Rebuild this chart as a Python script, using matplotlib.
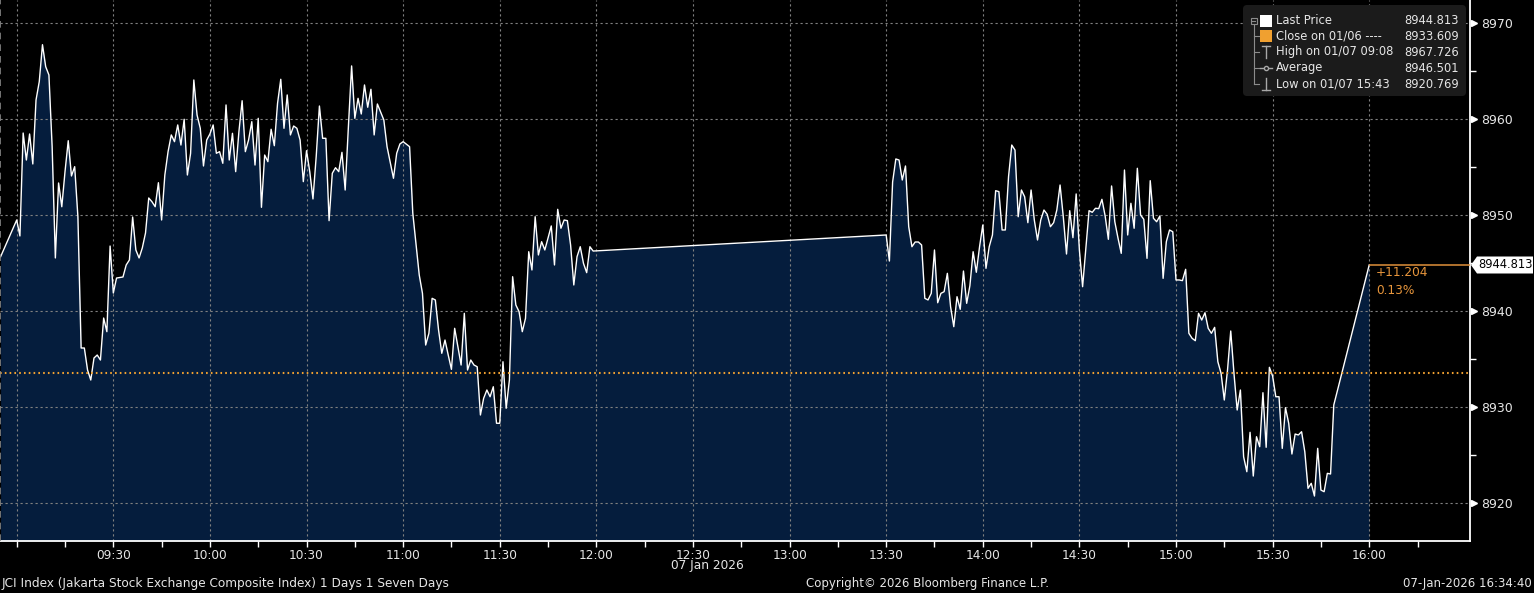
import matplotlib
matplotlib.use('Agg')
import matplotlib.pyplot as plt
import matplotlib.patches as patches
import matplotlib.transforms as mtransforms

W, H = 1534, 593

# JCI intraday, 07 Jan 2026 - minutes after 09:00 and index level
minutes = [
    -5, 0, 1, 2, 3, 4, 5, 6, 7, 8, 9, 10, 11, 12, 13, 14, 15, 16, 17, 18, 19,
    20, 21, 22, 23, 24, 25, 26, 27, 28, 29, 30, 31, 33, 34, 35, 36, 37, 38, 39,
    40, 41, 42, 43, 44, 45, 46, 47, 48, 49, 50, 51, 52, 53, 54, 55, 56, 57, 58, 59,
    60, 61, 62, 63, 64, 65, 66, 67, 68, 69, 70, 71, 72, 73, 74, 75, 76, 77, 78, 79,
    80, 81, 82, 83, 84, 85, 86, 87, 88, 89, 90, 91, 92, 93, 94, 95, 96, 97, 98, 99,
    100, 101, 102, 103, 104, 105, 106, 107, 108, 109, 110, 111, 112, 114, 115, 117, 118, 119,
    120, 122, 123, 125, 126, 127, 128, 129, 130, 131, 132, 133, 134, 135, 136, 137, 138, 139,
    140, 141, 142, 143, 144, 145, 146, 147, 148, 149, 150, 151, 152, 153, 154, 155, 156, 157, 158, 159,
    160, 161, 162, 163, 164, 166, 167, 168, 169, 170, 171, 172, 173, 174, 175, 176, 177, 178, 179,
    270, 271, 272, 273, 274, 275, 276, 277, 278, 279, 280, 281, 282, 283, 284, 285, 286, 287, 288, 289,
    290, 291, 292, 293, 294, 295, 296, 297, 298, 299, 300, 301, 302, 303, 304, 305, 306, 307, 308, 309,
    310, 311, 312, 313, 314, 315, 316, 317, 318, 319, 320, 321, 322, 323, 324, 325, 326, 327, 328, 329,
    330, 331, 332, 333, 334, 335, 336, 337, 338, 339, 340, 341, 342, 343, 344, 345, 346, 347, 348, 349,
    350, 351, 352, 353, 354, 355, 356, 357, 358, 359, 360, 361, 362, 363, 364, 365, 366, 367, 368, 369,
    370, 371, 372, 373, 374, 375, 376, 377, 378, 379, 380, 381, 382, 383, 384, 385, 386, 387, 388, 389,
    390, 391, 392, 393, 394, 395, 396, 397, 398, 399, 400, 401, 402, 403, 404, 405, 406, 407, 408, 409,
    420,
]
prices = [
    8945.67, 8949.49, 8947.83, 8958.54, 8955.73, 8958.44, 8955.32, 8961.98, 8963.88, 8967.73,
    8965.44, 8964.58, 8957.12, 8945.54, 8953.34, 8950.87, 8954.52, 8957.74, 8954.07, 8955.04, 8949.83,
    8936.17, 8936.17, 8933.88, 8932.84, 8935.13, 8935.44, 8934.92, 8939.29, 8937.87, 8946.78,
    8941.89, 8943.45, 8943.56, 8944.81, 8945.33, 8949.80, 8946.37, 8945.54, 8946.58,
    8948.14, 8951.78, 8951.39, 8950.87, 8953.37, 8949.49, 8954.17, 8956.60, 8958.34, 8957.64,
    8959.38, 8957.29, 8959.97, 8954.17, 8956.43, 8964.06, 8960.42, 8959.03, 8955.11, 8957.81,
    8958.44, 8959.38, 8956.43, 8956.60, 8955.39, 8961.46, 8955.73, 8958.51, 8954.52, 8958.68,
    8961.90, 8956.60, 8957.81, 8959.72, 8955.21, 8960.07, 8950.81, 8956.25, 8955.56, 8958.93,
    8957.22, 8961.63, 8964.13, 8959.03, 8962.50, 8958.34, 8959.27, 8959.03, 8957.81, 8953.48,
    8956.70, 8954.52, 8951.68, 8956.08, 8961.35, 8957.99, 8957.99, 8949.42, 8954.35, 8954.93,
    8954.52, 8956.53, 8952.61, 8959.20, 8965.52, 8960.07, 8962.15, 8960.52, 8963.54, 8961.22,
    8963.09, 8958.34, 8961.56, 8959.90, 8957.12, 8953.83, 8956.43, 8957.40,
    8957.64, 8957.12, 8950.19, 8943.77, 8941.86, 8936.48, 8937.70, 8941.34, 8941.17, 8938.04,
    8935.62, 8937.00, 8935.44, 8933.95, 8938.22, 8936.31, 8934.40, 8939.78,
    8933.88, 8934.92, 8934.40, 8934.22, 8929.20, 8930.94, 8931.80, 8931.10, 8932.14, 8928.34,
    8928.34, 8934.74, 8929.90, 8932.84, 8943.59, 8940.65, 8939.95, 8937.87, 8939.26, 8946.19,
    8944.29, 8949.83, 8945.85, 8947.23, 8946.37, 8948.87, 8944.81, 8950.60, 8948.63, 8949.49,
    8949.42, 8946.89, 8942.73, 8945.67, 8946.71, 8944.98, 8944.01, 8946.71, 8946.26,
    8947.93, 8945.22, 8953.44, 8955.84, 8955.73, 8953.65, 8955.11, 8948.79, 8946.71, 8947.20,
    8947.20, 8946.89, 8941.34, 8941.17, 8941.86, 8946.37, 8940.88, 8941.86, 8942.03, 8943.94,
    8940.47, 8938.39, 8941.51, 8940.20, 8944.18, 8940.82, 8942.65, 8946.19, 8944.05, 8946.71,
    8948.97, 8944.46, 8946.71, 8947.93, 8952.54, 8952.44, 8948.45, 8948.45, 8954.00, 8957.29,
    8956.77, 8949.83, 8952.61, 8951.91, 8949.21, 8952.61, 8949.49, 8947.41, 8949.49, 8950.53,
    8950.08, 8948.79, 8949.21, 8950.53, 8953.13, 8949.83, 8945.95, 8950.46, 8947.65, 8952.20,
    8946.37, 8942.55, 8946.44, 8950.46, 8950.29, 8950.71, 8950.67, 8951.64, 8949.91, 8947.48,
    8953.03, 8949.31, 8947.59, 8946.02, 8954.69, 8947.93, 8951.23, 8948.63, 8954.87, 8950.01,
    8949.56, 8945.50, 8953.58, 8949.67, 8949.31, 8949.91, 8943.42, 8947.23, 8948.45, 8948.27,
    8943.25, 8943.25, 8943.18, 8944.36, 8937.70, 8937.18, 8936.93, 8939.78, 8939.08, 8939.84,
    8938.22, 8937.70, 8938.32, 8934.74, 8933.54, 8930.76, 8933.88, 8937.94, 8933.54, 8929.72,
    8931.80, 8924.86, 8923.30, 8927.40, 8922.85, 8926.94, 8925.90, 8931.52, 8925.84, 8934.16,
    8933.26, 8931.10, 8931.10, 8925.73, 8929.96, 8928.34, 8925.14, 8927.22, 8927.12, 8927.46,
    8925.38, 8921.57, 8922.09, 8920.77, 8925.73, 8921.39, 8921.22, 8923.13, 8923.06, 8930.24,
    8944.81,
]

prev_close = 8933.609
last_price = 8944.813
change_txt = "+11.204"
change_pct_txt = "0.13%"

y_levels = [8920, 8930, 8940, 8950, 8960, 8970]
y_minor = [8925, 8935, 8945, 8955, 8965]
tick_minutes = list(range(0, 436, 15))
label_minutes = list(range(30, 421, 30))

legend_labels = ["Last Price", "Close on 01/06 ----", "High on 01/07 09:08",
                 "Average", "Low on 01/07 15:43"]
legend_values = ["8944.813", "8933.609", "8967.726", "8946.501", "8920.769"]

NAVY = '#051d3d'
ORANGE = '#f0a030'
TXT = '#e6e6e6'
GRID = '#808080'

plt.rcParams['font.family'] = ['DejaVu Sans']

fig = plt.figure(figsize=(W / 100, H / 100), dpi=100, facecolor='black')
# pixel transform: x right, y down from the top edge
pix = mtransforms.Affine2D().scale(1, -1).translate(0, H)

ax = fig.add_axes([0, 52 / H, 1470 / W, 541 / H])
ax.set_facecolor('black')
x0, x1 = -5.19, 451.3
y0, y1 = 8916.09, 8972.38
ax.set_xlim(x0, x1)
ax.set_ylim(y0, y1)

ax.fill_between(minutes, prices, y0, color=NAVY, lw=0, zorder=1)
for m in range(0, 421, 30):
    ax.axvline(m, color=GRID, lw=0.8, ls=(0, (2, 2.5)), zorder=2)
for lv in y_levels:
    ax.axhline(lv, color=GRID, lw=0.8, ls=(0, (2, 2.5)), zorder=2)
ax.plot(minutes, prices, color='white', lw=1.0, zorder=3)
ax.axhline(prev_close, color=ORANGE, lw=1.5, ls=(0, (0.8, 1.5)), zorder=4)
ax.plot([minutes[-1], x1], [last_price, last_price], color='#e0903a', lw=1.1,
        zorder=4, solid_capstyle='butt')
# dashed left edge
ax.plot([x0 + 0.15, x0 + 0.15], [y0, y1], color='#8a8a8a', lw=1.2,
        ls=(0, (4, 3)), clip_on=False, zorder=5)

for s in ['top', 'left']:
    ax.spines[s].set_visible(False)
for s in ['bottom', 'right']:
    ax.spines[s].set_color('white')
    ax.spines[s].set_linewidth(1.3)

ax.set_xticks(tick_minutes)
ax.set_xticklabels(['%02d:%02d' % (9 + m // 60, m % 60) if m in label_minutes else ''
                    for m in tick_minutes])
ax.tick_params(axis='x', direction='out', length=4, width=1, color='white',
               labelcolor=TXT, labelsize=8.7, pad=1.5)

ax.yaxis.tick_right()
ax.set_yticks(y_levels)
ax.set_yticks(y_minor, minor=True)
ax.tick_params(axis='y', which='major', length=0, pad=8, labelcolor=TXT, labelsize=9)
ax.tick_params(axis='y', which='minor', length=4, width=1, color='white')
ax.plot([1 + 4 / 1470] * len(y_levels), y_levels, ls='none', marker='>',
        markersize=5, color='white', transform=ax.get_yaxis_transform(),
        clip_on=False, zorder=6)

# last price tag
tag = patches.Polygon([(1471, 265), (1477, 256.5), (1533, 256.5), (1533, 273.5), (1477, 273.5)],
                      closed=True, facecolor='white', edgecolor='none', transform=pix)
fig.add_artist(tag)
fig.text(1478, 265, "8944.813", transform=pix, color='black', fontsize=8.3,
         ha='left', va='center')
fig.text(1376, 273, change_txt, transform=pix, color='#e8963c', fontsize=8.7,
         ha='left', va='center')
fig.text(1376, 290, change_pct_txt, transform=pix, color='#e8963c', fontsize=8.7,
         ha='left', va='center')

# legend box
box = patches.FancyBboxPatch((1243, 5), 223, 91, boxstyle='round,pad=0,rounding_size=4',
                             facecolor='#1b1b1b', edgecolor='none', transform=pix)
fig.add_artist(box)
rows = [20.5, 36, 52, 68, 84]
for lab, val, ry in zip(legend_labels, legend_values, rows):
    fig.text(1276, ry, lab, transform=pix, color=TXT, fontsize=8.3, ha='left', va='center')
    fig.text(1459, ry, val, transform=pix, color=TXT, fontsize=8.3, ha='right', va='center')

tree = '#8c8c8c'
fig.add_artist(patches.Rectangle((1250.5, 17.5), 6, 6, facecolor='none', edgecolor=tree,
                                 lw=0.8, transform=pix))
fig.add_artist(plt.Line2D([1252, 1255], [20.5, 20.5], color=tree, lw=0.8, transform=pix))
fig.add_artist(plt.Line2D([1253.5, 1253.5], [24, 84], color=tree, lw=0.8, transform=pix))
for ry in rows[1:]:
    fig.add_artist(plt.Line2D([1253.5, 1259], [ry, ry], color=tree, lw=0.8, transform=pix))

fig.add_artist(patches.Rectangle((1260, 14.5), 12, 12, facecolor='white', edgecolor='none',
                                 transform=pix))
fig.add_artist(patches.Rectangle((1260, 30), 12, 12, facecolor=ORANGE, edgecolor='none',
                                 transform=pix))
icon = '#a8a8a8'
fig.add_artist(plt.Line2D([1266, 1266], [46, 58], color=icon, lw=1, transform=pix))
fig.add_artist(plt.Line2D([1262, 1270], [46, 46], color=icon, lw=1, transform=pix))
fig.add_artist(plt.Line2D([1260, 1272], [68, 68], color=icon, lw=1, transform=pix))
fig.add_artist(plt.Line2D([1266], [68], color=icon, marker='o', markersize=3,
                          markerfacecolor='#1b1b1b', transform=pix))
fig.add_artist(plt.Line2D([1266, 1266], [78, 90], color=icon, lw=1, transform=pix))
fig.add_artist(plt.Line2D([1262, 1270], [90, 90], color=icon, lw=1, transform=pix))

# footer texts
fig.text(707, 566, "07 Jan 2026", transform=pix, color=TXT, fontsize=8.7,
         ha='center', va='center')
fig.text(2, 584, "JCI Index (Jakarta Stock Exchange Composite Index) 1 Days 1 Seven Days",
         transform=pix, color=TXT, fontsize=8.7, ha='left', va='center')
fig.text(927, 584, "Copyright\u00a9 2026 Bloomberg Finance L.P.", transform=pix,
         color=TXT, fontsize=8.5, ha='center', va='center')
fig.text(1532, 584, "07-Jan-2026 16:34:40", transform=pix, color=TXT, fontsize=8.5,
         ha='right', va='center')

fig.savefig('out.png', dpi=100, facecolor='black')
